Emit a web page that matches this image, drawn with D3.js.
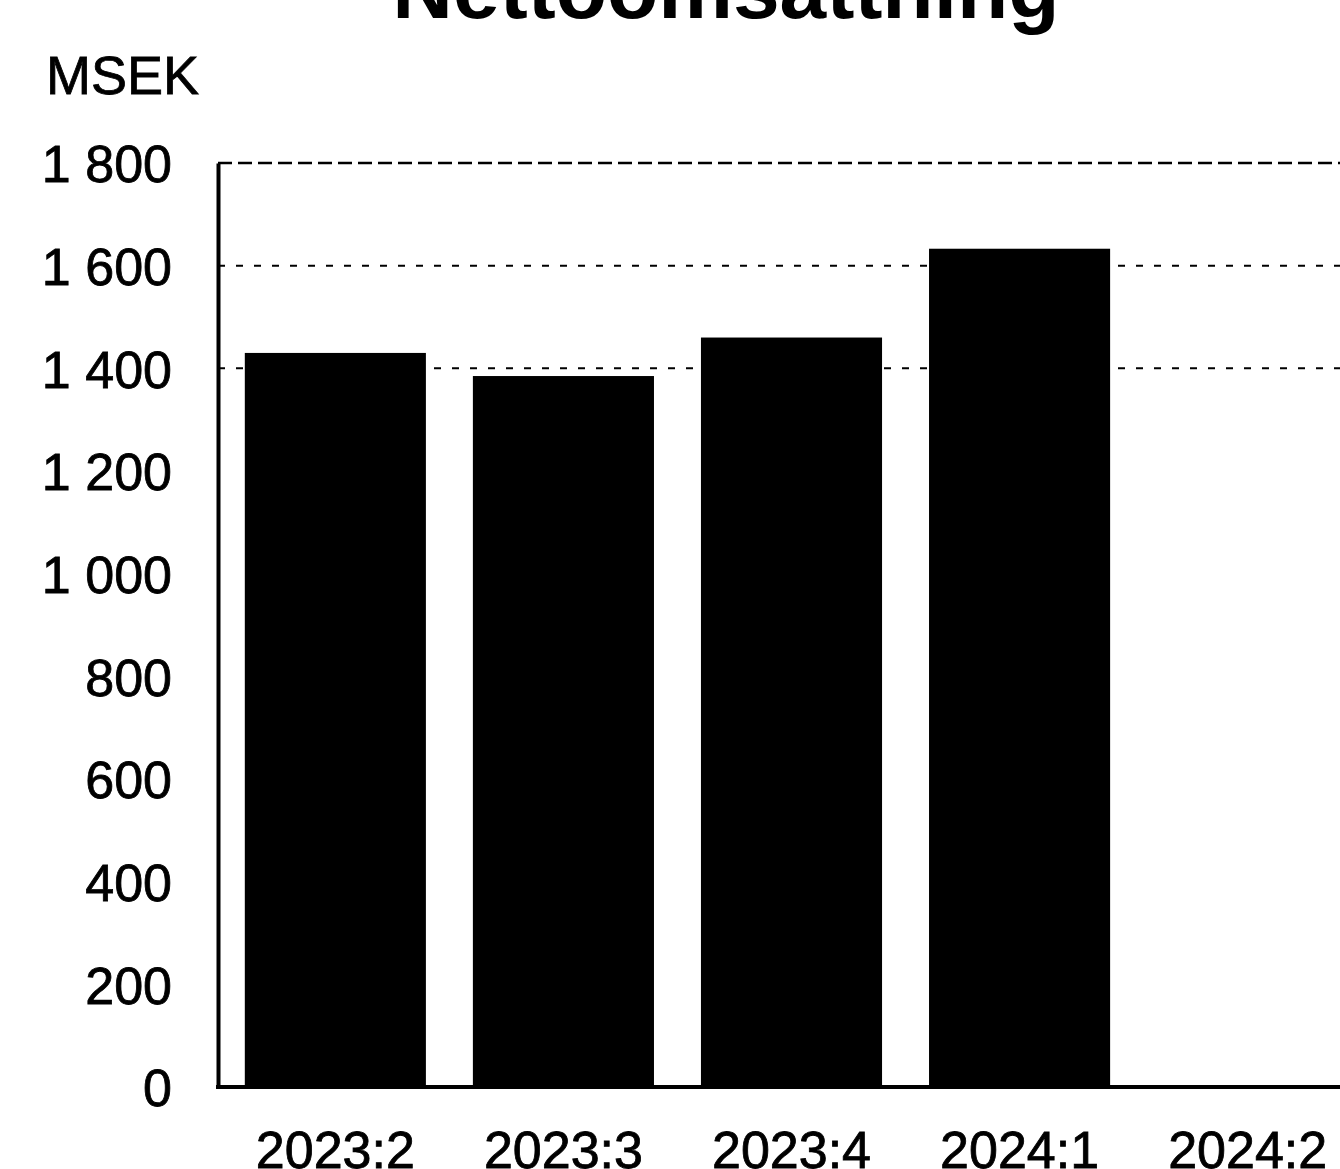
<!DOCTYPE html>
<html>
<head>
<meta charset="utf-8">
<script src="https://cdn.jsdelivr.net/npm/d3@7"></script>
<style>
  html, body { margin: 0; padding: 0; background: #fff; }
  svg { display: block; }
  text { font-family: "Liberation Sans", Arial, sans-serif; fill: #000; }
</style>
</head>
<body>
<svg id="chart" width="1340" height="1169"></svg>
<script>
// ---- data ----
const title = "Nettoomsättning";
const unitLabel = "MSEK";
const categories = ["2023:2", "2023:3", "2023:4", "2024:1", "2024:2"];
const values = [1430, 1385, 1460, 1633, null];
const yTicks = [0, 200, 400, 600, 800, 1000, 1200, 1400, 1600, 1800];
const yTickLabels = ["0", "200", "400", "600", "800", "1 000", "1 200", "1 400", "1 600", "1 800"];
const gridTicks = [1400, 1600, 1800];

// ---- layout ----
const svg = d3.select("#chart");
const plotLeft = 218, plotBottom = 1087, plotTop = 163;

const x = d3.scaleBand()
  .domain(categories)
  .range([222, 1361])
  .paddingInner(0.206)
  .paddingOuter(0.1);

const y = d3.scaleLinear().domain([0, 1800]).range([plotBottom, plotTop]);

// title
svg.append("text")
  .attr("x", 726).attr("y", 18)
  .attr("text-anchor", "middle")
  .attr("font-size", 84).attr("font-weight", "bold")
  .text(title);

// unit label
svg.append("text")
  .attr("x", 46).attr("y", 94)
  .attr("font-size", 54)
  .attr("stroke", "#000").attr("stroke-width", 0.8)
  .text(unitLabel);

// gridlines
svg.append("g").selectAll("line")
  .data(gridTicks)
  .join("line")
  .attr("x1", plotLeft).attr("x2", 1340)
  .attr("y1", d => y(d)).attr("y2", d => y(d))
  .attr("stroke", "#000")
  .attr("stroke-width", d => d === 1800 ? 2.5 : 2)
  .attr("stroke-dasharray", d => d === 1800 ? "14,6" : "7,11");

// bars
svg.append("g").selectAll("rect")
  .data(categories.map((c, i) => ({ c, v: values[i] })).filter(d => d.v != null))
  .join("rect")
  .attr("x", d => x(d.c))
  .attr("width", x.bandwidth())
  .attr("y", d => y(d.v))
  .attr("height", d => y(0) - y(d.v))
  .attr("fill", "#000");

// y axis
const yAxis = d3.axisLeft(y)
  .tickValues(yTicks)
  .tickSize(0)
  .tickPadding(46)
  .tickFormat((d, i) => yTickLabels[i]);
const gy = svg.append("g")
  .attr("transform", `translate(${plotLeft},0)`)
  .call(yAxis);
gy.select(".domain").attr("stroke", "#000").attr("stroke-width", 4);
gy.selectAll("text")
  .attr("font-size", 52)
  .attr("font-family", "Liberation Sans, Arial, sans-serif")
  .attr("stroke", "#000").attr("stroke-width", 0.8)
  .attr("dy", "0.36em");

// x axis
const xAxis = d3.axisBottom(x).tickSize(0).tickPadding(44);
const gx = svg.append("g")
  .attr("transform", `translate(0,${plotBottom})`)
  .call(xAxis);
gx.select(".domain").remove();
gx.append("line")
  .attr("x1", plotLeft - 2).attr("x2", 1340)
  .attr("y1", 0).attr("y2", 0)
  .attr("stroke", "#000").attr("stroke-width", 4);
gx.selectAll("text")
  .attr("font-size", 52)
  .attr("font-family", "Liberation Sans, Arial, sans-serif")
  .attr("stroke", "#000").attr("stroke-width", 0.8);
</script>
</body>
</html>
